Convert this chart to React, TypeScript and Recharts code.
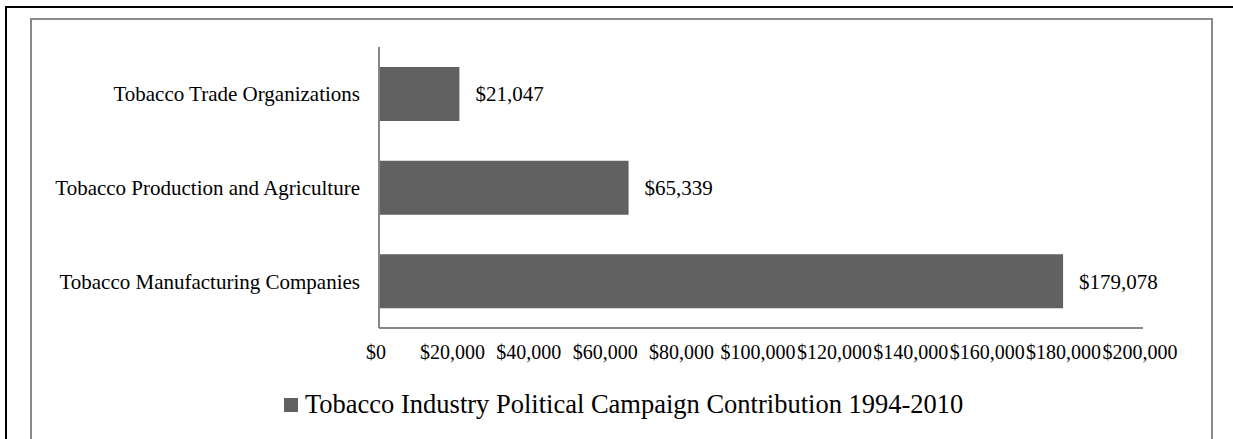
import { BarChart, Bar, XAxis, YAxis, Legend, LabelList } from 'recharts';

const BAR_GRAY = '#616161';
const AXIS_GRAY = '#878787';
const FONT = '"Liberation Serif", "Times New Roman", serif';

const categories = [
  'Tobacco Trade Organizations',
  'Tobacco Production and Agriculture',
  'Tobacco Manufacturing Companies',
];
const contributions = [21047, 65339, 179078];
const xTicks = [0, 20000, 40000, 60000, 80000, 100000, 120000, 140000, 160000, 180000, 200000];
const seriesName = 'Tobacco Industry Political Campaign Contribution 1994-2010';

const chartData = categories.map((name, i) => ({ name, value: contributions[i] }));

const formatMoney = (v: number) => '$' + v.toLocaleString('en-US');

const XTick = (props: { x?: number; y?: number; payload?: { value: number } }) => {
  const { x = 0, y = 0, payload } = props;
  return (
    <text x={x - 3} y={y + 29} textAnchor="middle" fontSize={20} fill="#000" fontFamily={FONT}>
      {formatMoney(payload ? payload.value : 0)}
    </text>
  );
};

const LegendContent = () => (
  <div style={{ height: 61, paddingTop: 21, boxSizing: 'border-box', paddingLeft: 284 }}>
    <div style={{ display: 'flex', alignItems: 'center', height: 30 }}>
      <span style={{ width: 14, height: 14, background: BAR_GRAY, marginRight: 7, marginTop: 2 }} />
      <span style={{ fontFamily: FONT, fontSize: 26.5, lineHeight: '30px', color: '#000', whiteSpace: 'nowrap' }}>
        {seriesName}
      </span>
    </div>
  </div>
);

export default function App() {
  return (
    <div style={{ position: 'absolute', left: 0, top: 0, width: 1233, height: 439, overflow: 'hidden', background: '#fff' }}>
      <div style={{ position: 'absolute', left: 5, top: 6, width: 1400, height: 600, border: '2px solid #000' }} />
      <div
        style={{
          position: 'absolute',
          left: 30,
          top: 18,
          width: 1183,
          height: 600,
          boxSizing: 'border-box',
          border: '2px solid #898989',
        }}
      />
      <div style={{ position: 'absolute', left: 0, top: 0 }}>
        <BarChart
          width={1233}
          height={439}
          layout="vertical"
          data={chartData}
          margin={{ top: 47, right: 90, left: 0, bottom: 10 }}
          style={{ fontFamily: FONT }}
        >
          <XAxis
            type="number"
            domain={[0, 200000]}
            ticks={xTicks}
            interval={0}
            tick={<XTick />}
            tickLine={false}
            tickSize={0}
            height={40}
            stroke={AXIS_GRAY}
            strokeWidth={2}
          />
          <YAxis
            type="category"
            dataKey="name"
            width={379}
            tickLine={false}
            tickSize={0}
            tickMargin={19}
            tick={{ fontSize: 21, fill: '#000', fontFamily: FONT }}
            stroke={AXIS_GRAY}
            strokeWidth={2}
          />
          <Legend verticalAlign="bottom" content={<LegendContent />} />
          <Bar dataKey="value" name={seriesName} fill={BAR_GRAY} barSize={54} isAnimationActive={false}>
            <LabelList
              dataKey="value"
              position="right"
              offset={16}
              formatter={(v: number) => formatMoney(v)}
              style={{ fontSize: 21, fill: '#000', fontFamily: FONT }}
            />
          </Bar>
        </BarChart>
      </div>
    </div>
  );
}
